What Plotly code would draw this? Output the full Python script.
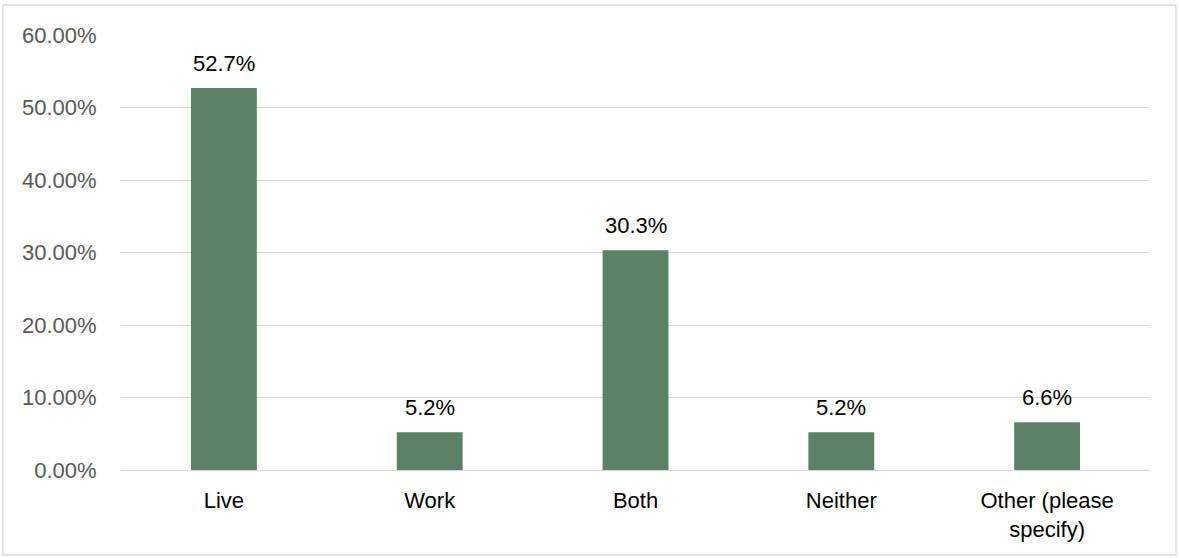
import plotly.graph_objects as go

categories = ["Live", "Work", "Both", "Neither", "Other (please<br>specify)"]
values = [0.527, 0.052, 0.303, 0.052, 0.066]
labels = ["52.7%", "5.2%", "30.3%", "5.2%", "6.6%"]
tick_vals = [0, 0.1, 0.2, 0.3, 0.4, 0.5, 0.6]
tick_text = ["0.00%", "10.00%", "20.00%", "30.00%", "40.00%", "50.00%", "60.00%"]

FONT = "Liberation Sans, Arial, sans-serif"
FS = 22

fig = go.Figure()
fig.add_trace(go.Bar(
    x=categories, y=values,
    marker=dict(color="#5B8266", line=dict(width=0)),
    width=0.32,
    hoverinfo="skip",
))

for c, v, t in zip(categories, values, labels):
    fig.add_annotation(x=c, y=v, text=t, showarrow=False, yanchor="bottom",
                       yshift=10, font=dict(family=FONT, size=FS, color="#000000"))

L, R, T, B = 121, 29, 35, 88
W, H = 1179, 558
pw, ph = W - L - R, H - T - B
fig.add_shape(type="rect", xref="paper", yref="paper",
              x0=(3 - L) / pw, x1=(1176 - L) / pw,
              y0=(H - B - 555) / ph, y1=(H - B - 5) / ph,
              line=dict(color="#D9D9D9", width=1.3), fillcolor="rgba(0,0,0,0)", layer="below")

fig.update_layout(
    width=W, height=H,
    margin=dict(l=L, r=R, t=T, b=B, pad=0),
    paper_bgcolor="white", plot_bgcolor="white",
    showlegend=False,
    font=dict(family=FONT, size=FS, color="#000000"),
    xaxis=dict(showgrid=False, zeroline=False, showline=False,
               ticks="outside", ticklen=11, tickcolor="rgba(0,0,0,0)",
               tickfont=dict(family=FONT, size=FS, color="#000000")),
    yaxis=dict(range=[0, 0.6], tickvals=tick_vals, ticktext=tick_text,
               showgrid=True, gridcolor="#D9D9D9", gridwidth=1.3,
               zeroline=True, zerolinecolor="#D9D9D9", zerolinewidth=1.3,
               showline=False, ticks="outside", ticklen=19, tickcolor="rgba(0,0,0,0)",
               tickfont=dict(family=FONT, size=FS, color="#595959")),
)

fig.write_html("out.html", config={"displayModeBar": False},
               post_script="document.body.style.margin='0';document.body.style.overflow='hidden';")
